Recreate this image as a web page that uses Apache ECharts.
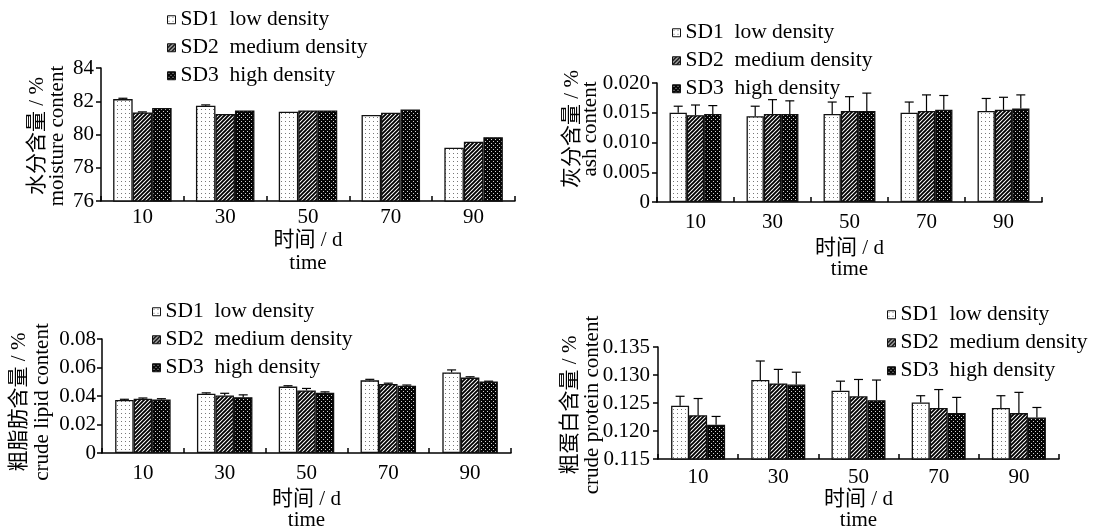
<!DOCTYPE html>
<html>
<head>
<meta charset="utf-8">
<script src="https://cdn.jsdelivr.net/npm/echarts@6/dist/echarts.min.js"></script>
<style>
html,body{margin:0;padding:0;background:#fff;}
#chart{width:1098px;height:532px;}
</style>
</head>
<body>
<div id="chart"></div>
<script>
// ---------------- data ----------------
const categories = ['10', '30', '50', '70', '90'];
const seriesNames = ['SD1  low density', 'SD2  medium density', 'SD3  high density'];

const moistureSD1 = [82.13, 81.73, 81.37, 81.17, 79.20];
const moistureSD2 = [81.33, 81.23, 81.45, 81.31, 79.56];
const moistureSD3 = [81.59, 81.45, 81.45, 81.51, 79.84];
const moistureErr1 = [0.05, 0.05, 0, 0, 0];
const moistureErr2 = [0.03, 0, 0, 0, 0];
const moistureErr3 = [0, 0, 0, 0, 0];
const moistureTicks = ['76', '78', '80', '82', '84'];

const ashSD1 = [0.0150, 0.0144, 0.0148, 0.0150, 0.0153];
const ashSD2 = [0.0146, 0.0148, 0.0153, 0.0153, 0.0155];
const ashSD3 = [0.0148, 0.0148, 0.0153, 0.0155, 0.0157];
const ashErr1 = [0.0011, 0.0017, 0.0020, 0.0018, 0.0021];
const ashErr2 = [0.0017, 0.0024, 0.0024, 0.0027, 0.0021];
const ashErr3 = [0.0014, 0.0022, 0.0030, 0.0024, 0.0023];
const ashTicks = ['0', '0.005', '0.010', '0.015', '0.020'];

const lipidSD1 = [0.0372, 0.0416, 0.0466, 0.0510, 0.0565];
const lipidSD2 = [0.0381, 0.0403, 0.0439, 0.0485, 0.0529];
const lipidSD3 = [0.0376, 0.0392, 0.0423, 0.0472, 0.0501];
const lipidErr1 = [0.0005, 0.0006, 0.0006, 0.0007, 0.0018];
const lipidErr2 = [0.0005, 0.0016, 0.0014, 0.0005, 0.0006];
const lipidErr3 = [0.0005, 0.0016, 0.0006, 0.0005, 0.0003];
const lipidTicks = ['0', '0.02', '0.04', '0.06', '0.08'];

const proteinSD1 = [0.1245, 0.1291, 0.1272, 0.1251, 0.1241];
const proteinSD2 = [0.1228, 0.1285, 0.1262, 0.1241, 0.1232];
const proteinSD3 = [0.1211, 0.1283, 0.1255, 0.1232, 0.1224];
const proteinErr1 = [0.0017, 0.0034, 0.0017, 0.0012, 0.0022];
const proteinErr2 = [0.0030, 0.0025, 0.0030, 0.0033, 0.0037];
const proteinErr3 = [0.0015, 0.0022, 0.0036, 0.0028, 0.0018];
const proteinTicks = ['0.115', '0.120', '0.125', '0.130', '0.135'];

const xName = '时间 / d\ntime';
const yNames = ['水分含量 / %\nmoisture content', '灰分含量 / %\nash content',
                '粗脂肪含量 / %\ncrude lipid content', '粗蛋白含量 / %\ncrude protein content'];

// ---------------- patterns ----------------
function makeTile(w, h, draw) {
  const c = document.createElement('canvas');
  c.width = w; c.height = h;
  draw(c.getContext('2d'));
  return c;
}
const patDots = makeTile(4, 4, g => {
  g.fillStyle = '#fff'; g.fillRect(0, 0, 4, 4);
  g.fillStyle = '#777'; g.fillRect(1, 1, 1, 1);
});
const patHatch = makeTile(4, 4, g => {
  g.fillStyle = '#fff'; g.fillRect(0, 0, 4, 4);
  g.strokeStyle = '#000'; g.lineWidth = 1.9;
  g.beginPath();
  g.moveTo(-1, 5); g.lineTo(5, -1);
  g.moveTo(-3, 3); g.lineTo(3, -3);
  g.moveTo(1, 7); g.lineTo(7, 1);
  g.stroke();
});
const patDark = makeTile(4, 4, g => {
  g.fillStyle = '#050505'; g.fillRect(0, 0, 4, 4);
  g.fillStyle = '#d0d0d0'; g.fillRect(1, 1, 1, 1); g.fillRect(3, 3, 1, 1);
});
const patterns = [patDots, patHatch, patDark];

// ---------------- layout ----------------
const FONT = '"Liberation Serif", "Times New Roman", "Noto Sans CJK SC", serif';
const FS = 21;
const panels = [
  { vals: [moistureSD1, moistureSD2, moistureSD3], errs: [moistureErr1, moistureErr2, moistureErr3], ticks: moistureTicks,
    min: 76, max: 84, interval: 2,
    grid: { left: 101, top: 68, width: 414, height: 133 }, barW: 19.5, labelMargin: 6, nameGap: 28, nameLH: 23, yLabelMargin: 7,
    legend: { left: 167, top: 9 }, yName: { x: 47, y: 136, lh: 20 } },
  { vals: [ashSD1, ashSD2, ashSD3], errs: [ashErr1, ashErr2, ashErr3], ticks: ashTicks,
    min: 0, max: 0.02, interval: 0.005,
    grid: { left: 657, top: 83, width: 385, height: 119 }, barW: 17.3, labelMargin: 10, nameGap: 36, nameLH: 21, yLabelMargin: 7,
    legend: { left: 672, top: 22 }, yName: { x: 581, y: 129, lh: 18 } },
  { vals: [lipidSD1, lipidSD2, lipidSD3], errs: [lipidErr1, lipidErr2, lipidErr3], ticks: lipidTicks,
    min: 0, max: 0.08, interval: 0.02,
    grid: { left: 102, top: 339, width: 409, height: 120 }, barW: 18.5, labelMargin: 10, nameGap: 36, nameLH: 21, yLabelMargin: 6,
    legend: { left: 152, top: 301 }, yName: { x: 31, y: 402, lh: 23 } },
  { vals: [proteinSD1, proteinSD2, proteinSD3], errs: [proteinErr1, proteinErr2, proteinErr3], ticks: proteinTicks,
    min: 0.115, max: 0.135, interval: 0.005,
    grid: { left: 658, top: 347, width: 401, height: 113 }, barW: 18, labelMargin: 8, nameGap: 30, nameLH: 21, yLabelMargin: 8,
    legend: { left: 887, top: 304 }, yName: { x: 581, y: 405, lh: 22 } }
];

const option = {
  animation: false,
  backgroundColor: '#fff',
  grid: [], xAxis: [], yAxis: [], series: [], legend: [], graphic: []
};

panels.forEach((p, pi) => {
  option.grid.push(Object.assign({ containLabel: false }, p.grid));
  option.xAxis.push({
    type: 'category', gridIndex: pi, data: categories,
    name: xName, nameLocation: 'middle', nameGap: p.nameGap,
    nameTextStyle: { fontFamily: FONT, fontSize: FS, color: '#000', lineHeight: p.nameLH, verticalAlign: 'top' },
    axisLine: { lineStyle: { color: '#000', width: 1.5 } },
    axisTick: { show: true, inside: true, length: 5, lineStyle: { color: '#000', width: 1.5 } },
    axisLabel: { fontFamily: FONT, fontSize: FS, color: '#000', margin: p.labelMargin },
    splitLine: { show: false }
  });
  option.yAxis.push({
    type: 'value', gridIndex: pi, min: p.min, max: p.max, interval: p.interval,
    axisLine: { show: true, lineStyle: { color: '#000', width: 1.5 } },
    axisTick: { show: true, inside: false, length: 5, lineStyle: { color: '#000', width: 1.5 } },
    axisLabel: { fontFamily: FONT, fontSize: FS, color: '#000', margin: p.yLabelMargin,
      formatter: (v, i) => p.ticks[Math.round((v - p.min) / p.interval)] },
    splitLine: { show: false }
  });
  for (let k = 0; k < 3; k++) {
    option.series.push({
      type: 'bar', name: seriesNames[k], xAxisIndex: pi, yAxisIndex: pi,
      data: p.vals[k], barWidth: p.barW, barGap: '0%',
      itemStyle: { color: { image: patterns[k], repeat: 'repeat' }, borderColor: '#111', borderWidth: 1.3 },
      emphasis: { disabled: true }, z: 2
    });
  }
  const errData = [];
  for (let k = 0; k < 3; k++) {
    for (let c = 0; c < categories.length; c++) {
      errData.push([c, k, p.vals[k][c], p.errs[k][c]]);
    }
  }
  const bw = p.barW;
  option.series.push({
    type: 'custom', xAxisIndex: pi, yAxisIndex: pi, data: errData, z: 3,
    encode: { x: 0, y: 2 },
    renderItem: (params, api) => {
      const c = api.value(0), k = api.value(1), v = api.value(2), e = api.value(3);
      if (!(e > 0)) return null;
      const p0 = api.coord([c, v]);
      const p1 = api.coord([c, v + e]);
      const x = p0[0] + (k - 1) * bw;
      const st = { stroke: '#000', lineWidth: 1.2 };
      return { type: 'group', children: [
        { type: 'line', shape: { x1: x, y1: p0[1], x2: x, y2: p1[1] }, style: st },
        { type: 'line', shape: { x1: x - 4.5, y1: p1[1], x2: x + 4.5, y2: p1[1] }, style: st }
      ] };
    }
  });
  option.legend.push({
    orient: 'vertical', left: p.legend.left, top: p.legend.top, align: 'left',
    itemWidth: 8, itemHeight: 8, itemGap: 6.5, icon: 'rect', padding: 0,
    selectedMode: false,
    data: seriesNames,
    itemStyle: { borderColor: '#111', borderWidth: 1 },
    textStyle: { fontFamily: FONT, fontSize: 21.5, color: '#000', lineHeight: 21 }
  });
  option.graphic.push({
    type: 'text', x: p.yName.x, y: p.yName.y, rotation: Math.PI / 2,
    style: { text: yNames[pi], font: FS + 'px ' + FONT, fill: '#000',
      align: 'center', verticalAlign: 'middle', textAlign: 'center', textVerticalAlign: 'middle',
      lineHeight: p.yName.lh }
  });
});

const chart = echarts.init(document.getElementById('chart'), null, { renderer: 'canvas' });
chart.setOption(option);
</script>
</body>
</html>
